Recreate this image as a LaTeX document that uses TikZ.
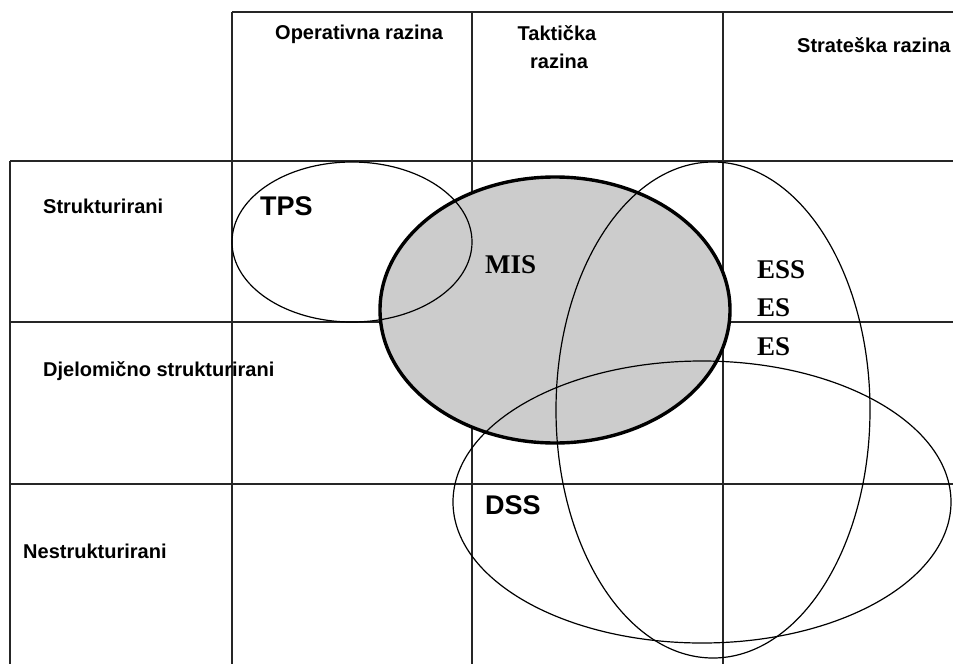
\documentclass[tikz,border=0pt]{standalone}
\usepackage{fontspec}
\setmainfont{Liberation Serif}
\setsansfont{Liberation Sans}
\begin{document}
\begin{tikzpicture}[x=1pt,y=-1pt,
  grid/.style={line width=1.3pt,draw=black!85},
  thin ell/.style={line width=1.2pt,draw=black},
  mis ell/.style={line width=3.4pt,draw=black,fill=black!20},
  lab/.style={font=\sffamily\bfseries\fontsize{20}{22}\selectfont,inner sep=0pt,anchor=base west},
  big/.style={font=\sffamily\bfseries\fontsize{27}{29}\selectfont,inner sep=0pt,anchor=base west},
  ser/.style={font=\rmfamily\bfseries\fontsize{27}{29}\selectfont,inner sep=0pt,anchor=base west}]
\useasboundingbox[fill=white] (0,0) rectangle (953,664);
% grid
\draw[grid] (232,12) -- (953,12);
\draw[grid] (232,12) -- (232,664);
\draw[grid] (472,12) -- (472,664);
\draw[grid] (723,12) -- (723,664);
\draw[grid] (10,161) -- (10,664);
\draw[grid] (10,161) -- (953,161);
\draw[grid] (10,322) -- (953,322);
\draw[grid] (10,484) -- (953,484);
% MIS
\draw[mis ell] (555,310) ellipse [x radius=175, y radius=133];
% other ellipses
\draw[thin ell] (352,242) ellipse [x radius=120, y radius=80];
\draw[thin ell] (713,410) ellipse [x radius=157, y radius=248];
\draw[thin ell] (702,502) ellipse [x radius=249, y radius=141];
% header labels
\node[lab] (op) at (275,39) {Operativna razina};
\node[lab,anchor=base] (tak) at (557,40) {Taktička};
\node[lab,anchor=base] (tak2) at (559,68) {razina};
\node[lab] (str) at (797,52) {Strateška razina};
% row labels
\node[lab] (r1) at (43,213) {Strukturirani};
\node[lab] (r2) at (43,376) {Djelomično strukturirani};
\node[lab] (r3) at (23,558) {Nestrukturirani};
% system labels
\node[big] (tps) at (260,215) {TPS};
\node[ser] (mis) at (485,273) {MIS};
\node[ser] (ess) at (757,278) {ESS};
\node[ser] (es1) at (757,316) {ES};
\node[ser] (es2) at (757,355) {ES};
\node[big] (dss) at (485,514) {DSS};
\end{tikzpicture}
\end{document}
